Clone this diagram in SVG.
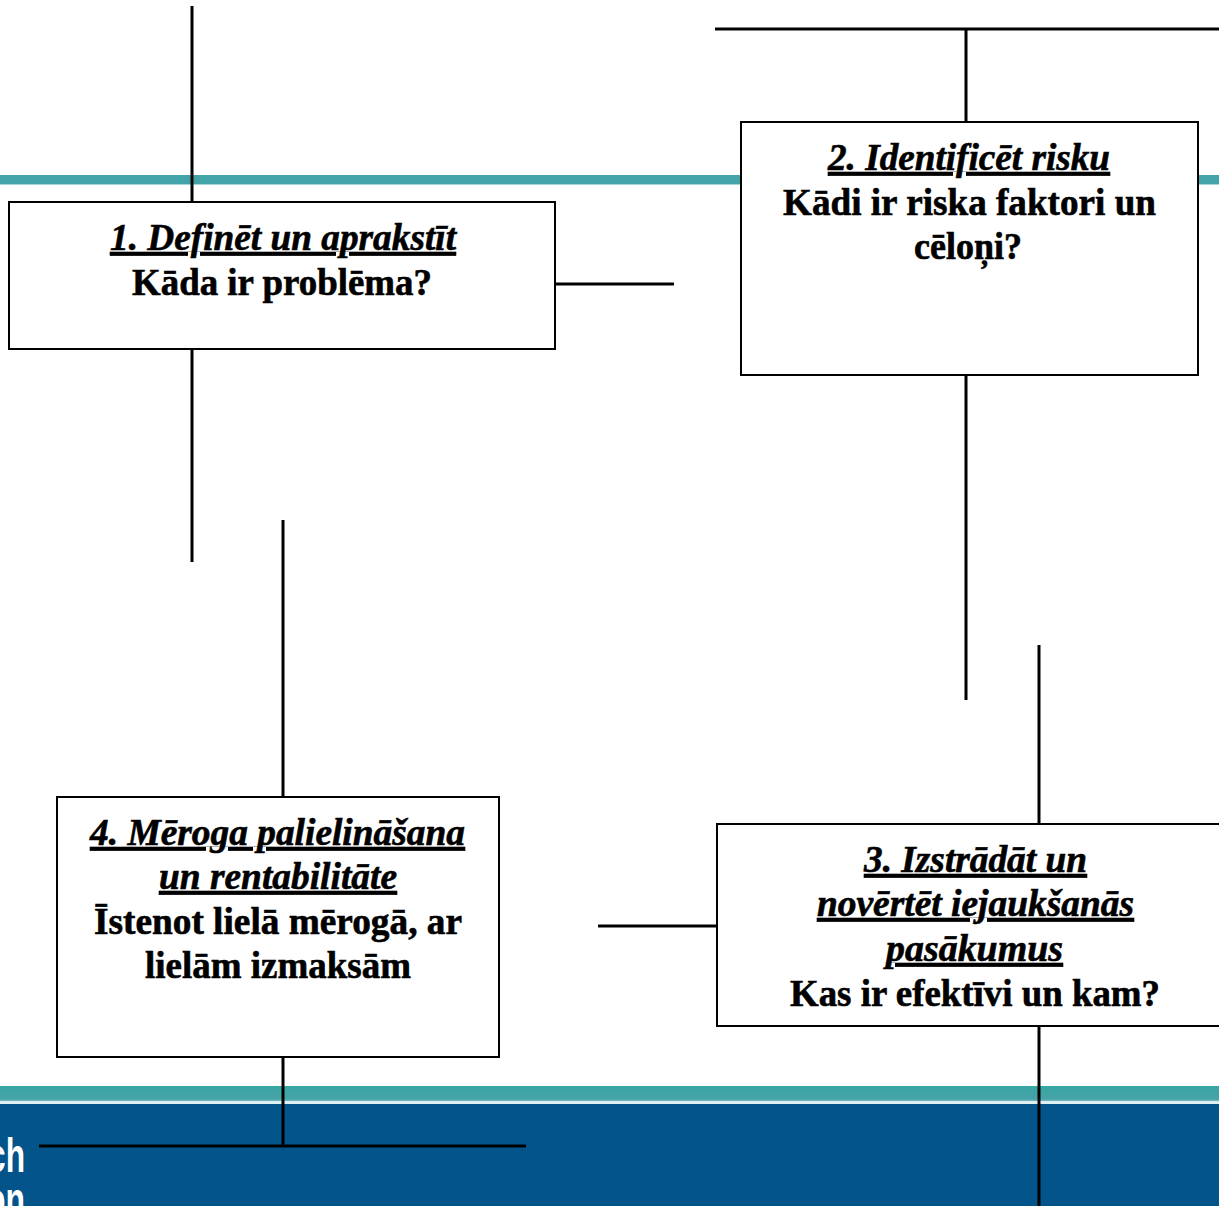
<svg xmlns="http://www.w3.org/2000/svg" width="1219" height="1206" viewBox="0 0 1219 1206">
<defs>
<style>
.box{fill:#fff;stroke:#000;stroke-width:2}
.ln{stroke:#000;stroke-width:3;fill:none}
.t{font-family:"Liberation Serif","Times New Roman",serif;font-size:37px;font-weight:bold;text-anchor:middle;fill:#000;stroke:#000;stroke-width:0.6}
.h{font-style:italic;text-decoration:underline}
.w{font-family:"Liberation Sans",Arial,sans-serif;font-size:48px;font-weight:bold;fill:#fff}
</style>
<linearGradient id="tealg" x1="0" y1="0" x2="0" y2="1">
<stop offset="0" stop-color="#36A8A2"/>
<stop offset="0.8" stop-color="#48A2A8"/>
<stop offset="1" stop-color="#7CC3C8"/>
</linearGradient>
</defs>
<rect width="1219" height="1206" fill="#fff"/>
<g id="background">
<rect x="0" y="175" width="1219" height="9" fill="#44A3A8"/>
<rect x="0" y="184" width="1219" height="1" fill="#A8D6D8"/>
<rect x="0" y="1086" width="1219" height="16" fill="url(#tealg)"/>
<rect x="0" y="1101" width="1219" height="3" fill="#DDEFF1"/>
<rect x="0" y="1104" width="1219" height="102" fill="#02548B"/>
<text class="w" x="-12" y="1172" textLength="37" lengthAdjust="spacingAndGlyphs">ch</text>
<text class="w" x="-14" y="1216" textLength="39" lengthAdjust="spacingAndGlyphs">on</text>
</g>
<g id="connectors">
<path class="ln" d="M192 6V202"/>
<path class="ln" d="M192 349V562"/>
<path class="ln" d="M555 284H674"/>
<path class="ln" d="M715 29H1219"/>
<path class="ln" d="M966 29V122"/>
<path class="ln" d="M966 375V700"/>
<path class="ln" d="M283 520V797"/>
<path class="ln" d="M283 1057V1146"/>
<path class="ln" d="M39 1146H526"/>
<path class="ln" d="M1039 645V824"/>
<path class="ln" d="M1039 1026V1206"/>
<path class="ln" d="M598 926H717"/>
</g>
<g id="node1">
<rect class="box" x="9" y="202" width="546" height="147"/>
<text class="t h" x="283" y="250" textLength="346" lengthAdjust="spacingAndGlyphs">1. Definēt un aprakstīt</text>
<text class="t" x="282" y="295" textLength="300" lengthAdjust="spacingAndGlyphs">Kāda ir problēma?</text>
</g>
<g id="node2">
<rect class="box" x="741" y="122" width="457" height="253"/>
<text class="t h" x="969" y="170" textLength="282" lengthAdjust="spacingAndGlyphs">2. Identificēt risku</text>
<text class="t" x="969.5" y="215" textLength="373" lengthAdjust="spacingAndGlyphs">Kādi ir riska faktori un</text>
<text class="t" x="968" y="259" textLength="108" lengthAdjust="spacingAndGlyphs">cēloņi?</text>
</g>
<g id="node3">
<rect class="box" x="717" y="824" width="530" height="202"/>
<text class="t h" x="975.5" y="872" textLength="223" lengthAdjust="spacingAndGlyphs">3. Izstrādāt un</text>
<text class="t h" x="975.5" y="916" textLength="317" lengthAdjust="spacingAndGlyphs">novērtēt iejaukšanās</text>
<text class="t h" x="974.5" y="961" textLength="177" lengthAdjust="spacingAndGlyphs">pasākumus</text>
<text class="t" x="975" y="1006" textLength="370" lengthAdjust="spacingAndGlyphs">Kas ir efektīvi un kam?</text>
</g>
<g id="node4">
<rect class="box" x="57" y="797" width="442" height="260"/>
<text class="t h" x="277.5" y="845" textLength="375" lengthAdjust="spacingAndGlyphs">4. Mēroga palielināšana</text>
<text class="t h" x="278" y="889" textLength="238" lengthAdjust="spacingAndGlyphs">un rentabilitāte</text>
<text class="t" x="278" y="934" textLength="368" lengthAdjust="spacingAndGlyphs">Īstenot lielā mērogā, ar</text>
<text class="t" x="278" y="978" textLength="266" lengthAdjust="spacingAndGlyphs">lielām izmaksām</text>
</g>
</svg>
